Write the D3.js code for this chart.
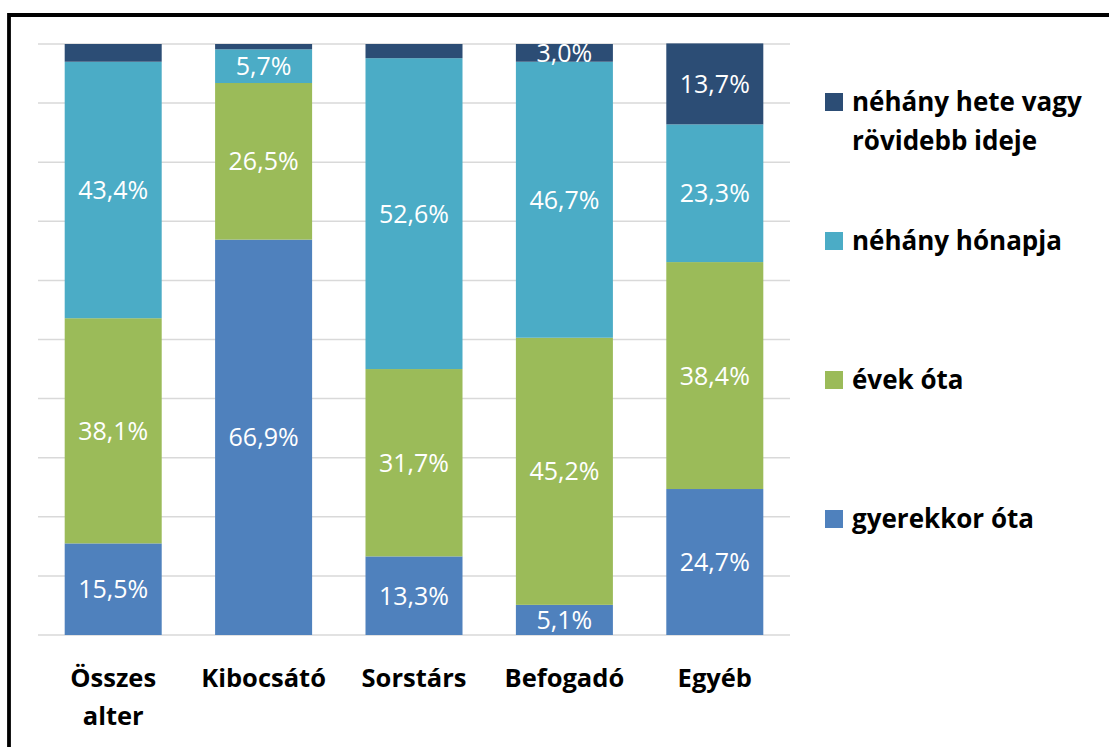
<!DOCTYPE html>
<html>
<head>
<meta charset="utf-8">
<script src="https://cdn.jsdelivr.net/npm/d3@7"></script>
<style>
  body { margin: 0; background: #fff; }
  svg { display: block; font-family: "Open Sans", sans-serif; }
</style>
</head>
<body>
<svg id="chart" width="1109" height="747"></svg>
<script>
// categories (x axis) and series, bottom to top
categories = [["Összes", "alter"], ["Kibocsátó"], ["Sorstárs"], ["Befogadó"], ["Egyéb"]];
seriesNames = ["gyerekkor óta", "évek óta", "néhány hónapja", "néhány hete vagy rövidebb ideje"];
legendLines = [["gyerekkor óta"], ["évek óta"], ["néhány hónapja"], ["néhány hete vagy", "rövidebb ideje"]];
colors = ["#4f81bd", "#9bbb59", "#4bacc6", "#2c4d75"];

gyerekkor = [15.5, 66.9, 13.3, 5.1, 24.7];
evek      = [38.1, 26.5, 31.7, 45.2, 38.4];
honapja   = [43.4, 5.7, 52.6, 46.7, 23.3];
hete      = [3.0, 0.9, 2.4, 3.0, 13.7];

// [series index, category index] of segments without a label
hiddenLabels = [[3, 0], [3, 1], [3, 2]];

gridTicks = d3.range(0, 101, 10);

let svg = d3.select("#chart");
let plot = {left: 38, right: 790, top: 44, bottom: 635};

let x = d3.scaleBand()
  .domain(d3.range(categories.length))
  .range([plot.left, plot.right])
  .paddingInner(0.355)
  .paddingOuter(0.1775);

let y = d3.scaleLinear()
  .domain([0, 100])
  .range([plot.bottom, plot.top]);

// outer frame
svg.append("path")
  .attr("d", "M9," + 760 + "V15H1120")
  .attr("fill", "none")
  .attr("stroke", "#000")
  .attr("stroke-width", 3.8);

// gridlines
svg.append("g").selectAll("line")
  .data(gridTicks)
  .enter().append("line")
  .attr("x1", plot.left)
  .attr("x2", plot.right)
  .attr("y1", d => y(d))
  .attr("y2", d => y(d))
  .attr("stroke", "#d9d9d9")
  .attr("stroke-width", 1.5);

let rows = categories.map((c, i) => ({
  i: i,
  "gyerekkor óta": gyerekkor[i],
  "évek óta": evek[i],
  "néhány hónapja": honapja[i],
  "néhány hete vagy rövidebb ideje": hete[i]
}));

let stack = d3.stack().keys(seriesNames);
let layers = stack(rows);

let layerG = svg.append("g").selectAll("g")
  .data(layers)
  .enter().append("g")
  .attr("fill", (d, i) => colors[i]);

layerG.selectAll("rect")
  .data(d => d)
  .enter().append("rect")
  .attr("x", d => x(d.data.i))
  .attr("width", x.bandwidth())
  .attr("y", d => y(d[1]))
  .attr("height", d => y(d[0]) - y(d[1]));

// data labels
let hidden = new Set(hiddenLabels.map(h => h[0] + "-" + h[1]));
layers.forEach((layer, si) => {
  svg.append("g").selectAll("text")
    .data(layer.filter(d => !hidden.has(si + "-" + d.data.i)))
    .enter().append("text")
    .attr("x", d => x(d.data.i) + x.bandwidth() / 2)
    .attr("y", d => (y(d[0]) + y(d[1])) / 2)
    .attr("dy", "0.36em")
    .attr("text-anchor", "middle")
    .attr("fill", "#fff")
    .attr("font-size", 25)
    .text(d => (d[1] - d[0]).toFixed(1).replace(".", ",") + "%");
});

// category labels
let xl = svg.append("g").selectAll("text")
  .data(categories)
  .enter().append("text")
  .attr("x", (d, i) => x(i) + x.bandwidth() / 2)
  .attr("y", 687)
  .attr("text-anchor", "middle")
  .attr("font-weight", "bold")
  .attr("font-size", 25.5)
  .attr("fill", "#000");

xl.selectAll("tspan")
  .data(d => d)
  .enter().append("tspan")
  .attr("x", function() { return d3.select(this.parentNode).attr("x"); })
  .attr("dy", (d, i) => i === 0 ? 0 : 38)
  .text(d => d);

// legend, top entry is the last series
let legendY = [519, 380, 241, 102];
let legend = svg.append("g").selectAll("g")
  .data(seriesNames)
  .enter().append("g")
  .attr("transform", (d, i) => "translate(825," + legendY[i] + ")");

legend.append("rect")
  .attr("x", 0)
  .attr("y", -9)
  .attr("width", 18)
  .attr("height", 18)
  .attr("fill", (d, i) => colors[i]);

legend.append("text")
  .attr("x", 27)
  .attr("y", 0)
  .attr("font-weight", "bold")
  .attr("font-size", 26)
  .attr("fill", "#000")
  .selectAll("tspan")
  .data((d, i) => legendLines[i])
  .enter().append("tspan")
  .attr("x", 27)
  .attr("dy", (d, i) => i === 0 ? "0.36em" : 39)
  .text(d => d);
</script>
</body>
</html>
